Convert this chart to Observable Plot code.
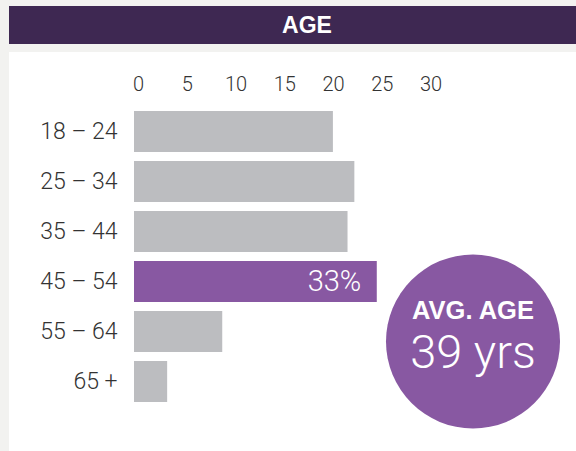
<!DOCTYPE html>
<html>
<head>
<meta charset="utf-8">
<script src="https://cdn.jsdelivr.net/npm/d3@7"></script>
<script src="https://cdn.jsdelivr.net/npm/@observablehq/plot@0.6"></script>
<style>
  html, body { margin: 0; padding: 0; background: #f2f2f0; width: 576px; height: 451px; overflow: hidden; }
  #header {
    position: absolute; left: 9px; top: 6px; width: 567px; height: 38px;
    background: #3e2852; color: #fff;
    font-family: "Liberation Sans", Arial, sans-serif; font-weight: 700; font-size: 23px;
    line-height: 38px; text-align: center; box-sizing: border-box; padding-left: 29px;
  }
  #panel { position: absolute; left: 9px; top: 52px; width: 567px; height: 399px; background: #fff; }
  #panel svg { display: block; }
</style>
</head>
<body>
<div id="header">AGE</div>
<div id="panel"></div>
<script>
const categories = ["18 – 24", "25 – 34", "35 – 44", "45 – 54", "55 – 64", "65 +"];
const values = [20.4, 22.6, 21.9, 24.9, 9.05, 3.4];
const highlight = ["", "", "", "33%", "", ""];
const xTicks = [0, 5, 10, 15, 20, 25, 30];
const avgLabel = ["AVG. AGE"];
const avgValue = ["39 yrs"];

const rows = categories.map((c, i) => ({age: c, value: values[i], label: highlight[i]}));

const grey = "#bcbdc0";
const purple = "#8858a2";

const chart = Plot.plot({
  width: 567,
  height: 399,
  marginLeft: 125,
  marginRight: 149.5,
  marginTop: 54.5,
  marginBottom: 44.5,
  style: {fontFamily: "Roboto, 'Liberation Sans', sans-serif", fontWeight: 300, color: "#333", background: "transparent"},
  x: {domain: [0, 30], label: null},
  y: {domain: categories, paddingInner: 0.18, paddingOuter: 0.09, label: null},
  marks: [
    Plot.barX(rows, {x: "value", y: "age", fill: d => d.label ? purple : grey}),
    Plot.text(rows.filter(d => d.label), {x: "value", y: "age", text: "label", textAnchor: "end", dx: -16, fill: "#fff", fontSize: 29, fontWeight: 300}),
    Plot.axisX({anchor: "top", ticks: xTicks, tickSize: 0, tickPadding: 16, fontSize: 20, dx: 4}),
    Plot.axisY({tickSize: 0, tickPadding: 17, fontSize: 23}),
    Plot.dot(avgLabel, {frameAnchor: "bottom-right", dx: 46, dy: -65.5, r: 87, fill: purple, stroke: null}),
    Plot.text(avgLabel, {frameAnchor: "bottom-right", textAnchor: "middle", lineAnchor: "middle", dx: 46, dy: -96.5, text: d => d, fill: "#fff", fontSize: 25.5, fontWeight: 700, fontFamily: "'Liberation Sans', Arial, sans-serif"}),
    Plot.text(avgValue, {frameAnchor: "bottom-right", textAnchor: "middle", lineAnchor: "middle", dx: 46, dy: -53.8, text: d => d, fill: "#fff", fontSize: 47, fontWeight: 300})
  ]
});
document.getElementById("panel").appendChild(chart);
</script>
</body>
</html>
